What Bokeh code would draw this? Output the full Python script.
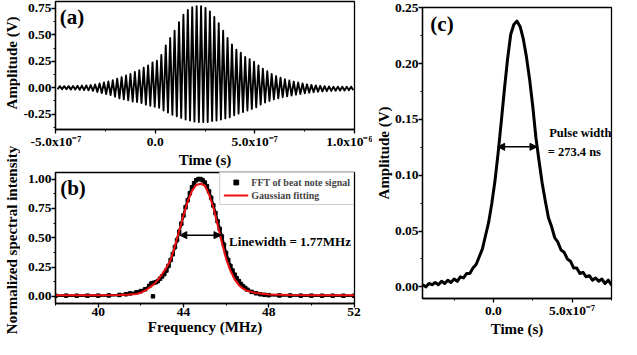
import math
import numpy as np
from bokeh.plotting import figure
from bokeh.models import Range1d, FixedTicker, NumeralTickFormatter, Label, Arrow, NormalHead
from bokeh.layouts import row, column
from bokeh.embed import file_html
from bokeh.resources import INLINE

FONT = "Liberation Serif"

# ---------------- Panel (a): beat-note time trace ----------------
a_t0 = -4.802e-7          # time of first upper extreme (s)
a_period = 2.22e-8        # carrier period (s)
a_upper = [0.015, 0.015, 0.015, 0.016, 0.018, 0.02, 0.022, 0.025, 0.03, 0.04,
           0.05, 0.06, 0.07, 0.085, 0.10, 0.115, 0.13, 0.15, 0.165, 0.19,
           0.21, 0.24, 0.255, 0.31, 0.40, 0.47, 0.54, 0.62, 0.69, 0.735,
           0.76, 0.77, 0.77, 0.755, 0.72, 0.67, 0.61, 0.54, 0.47, 0.41,
           0.36, 0.33, 0.29, 0.27, 0.245, 0.21, 0.18, 0.155, 0.13, 0.11,
           0.095, 0.08, 0.068, 0.058, 0.05, 0.04, 0.032, 0.027, 0.022, 0.018,
           0.015, 0.012, 0.01, 0.01, 0.01, 0.01, 0.01]
a_lower = [-0.015, -0.015, -0.015, -0.018, -0.018, -0.02, -0.022, -0.025, -0.03, -0.04,
           -0.05, -0.06, -0.07, -0.085, -0.10, -0.11, -0.12, -0.13, -0.135, -0.145,
           -0.16, -0.17, -0.18, -0.19, -0.215, -0.235, -0.255, -0.27, -0.285, -0.30,
           -0.31, -0.32, -0.325, -0.325, -0.325, -0.315, -0.31, -0.30, -0.29, -0.28,
           -0.26, -0.245, -0.23, -0.215, -0.20, -0.185, -0.16, -0.14, -0.125, -0.11,
           -0.10, -0.09, -0.082, -0.074, -0.066, -0.06, -0.053, -0.047, -0.042, -0.038,
           -0.035, -0.032, -0.03, -0.028, -0.027, -0.026, -0.025, -0.025]
a_xticks = [-5e-7, 0.0, 5e-7, 1e-6]
a_xlabels = ["-5.0x10\u207b\u2077", "0.0", "5.0x10\u207b\u2077", "1.0x10\u207b\u2076"]
a_xminor = [-2.5e-7, 2.5e-7, 7.5e-7]
a_yticks = [-0.25, 0.0, 0.25, 0.5, 0.75]
a_yminor = [-0.375, -0.125, 0.125, 0.375, 0.625]

# ---------------- Panel (b): spectrum ----------------
fft_freq = [38.0, 38.5, 39.0, 39.5, 40.0, 40.5, 41.0, 41.3, 41.5, 41.8,
            42.0, 42.2, 42.4, 42.5, 42.6, 42.7, 42.8, 42.9, 43.0, 43.1,
            43.2, 43.3, 43.4, 43.5, 43.6, 43.7, 43.8, 43.9, 44.0, 44.1,
            44.2, 44.3, 44.4, 44.5, 44.6, 44.7, 44.8, 44.9, 45.0, 45.1,
            45.2, 45.3, 45.4, 45.5, 45.6, 45.7, 45.8, 45.9, 46.0, 46.1,
            46.2, 46.3, 46.4, 46.5, 46.6, 46.7, 46.8, 46.9, 47.0,
            47.2, 47.4, 47.6, 47.8, 48.0,
            48.5, 49.0, 49.5, 50.0, 50.5, 51.0, 51.5, 52.0]
fft_amp = [0.005, 0.006, 0.005, 0.006, 0.006, 0.008, 0.012, 0.018, 0.025, 0.035,
           0.045, 0.06, 0.09, 0.11, 0.115, 0.12, 0.13, 0.15, 0.17, 0.19,
           0.22, 0.26, 0.31, 0.36, 0.42, 0.48, 0.55, 0.62, 0.69, 0.76,
           0.82, 0.88, 0.93, 0.965, 0.99, 1.0, 1.0, 0.99, 0.97, 0.94,
           0.895, 0.84, 0.775, 0.71, 0.64, 0.575, 0.51, 0.44, 0.37, 0.31,
           0.26, 0.22, 0.185, 0.155, 0.13, 0.105, 0.085, 0.07, 0.056,
           0.038, 0.026, 0.018, 0.013, 0.01,
           0.008, 0.007, 0.006, 0.006, 0.005, 0.005, 0.005, 0.005]
fft_outlier_freq = [42.57]
fft_outlier_amp = [0.0]
fit_freq = [38.0, 39.0, 40.0, 41.0, 41.5, 41.8, 42.0, 42.3, 42.6, 42.8,
            43.0, 43.2, 43.4, 43.6, 43.8, 44.0, 44.2, 44.4, 44.6, 44.8,
            45.0, 45.2, 45.4, 45.6, 45.8, 46.0, 46.2, 46.4, 46.6, 46.8,
            47.0, 47.4, 48.0, 49.0, 50.0, 52.0]
fit_amp = [0.01, 0.01, 0.01, 0.012, 0.015, 0.02, 0.03, 0.06, 0.10, 0.14,
           0.19, 0.245, 0.31, 0.43, 0.56, 0.69, 0.81, 0.90, 0.95, 0.96,
           0.945, 0.87, 0.76, 0.61, 0.46, 0.32, 0.22, 0.145, 0.095, 0.065,
           0.045, 0.028, 0.016, 0.011, 0.01, 0.01]
b_xticks = [40, 44, 48, 52]
b_xminor = [38, 42, 46, 50]
b_yticks = [0.0, 0.25, 0.5, 0.75, 1.0]
b_yminor = [0.125, 0.375, 0.625, 0.875]
b_arrow = (43.83, 45.76, 0.522)
b_note = "Linewidth = 1.77MHz"

# ---------------- Panel (c): pulse ----------------
pulse_t_us = [-0.45, -0.43, -0.41, -0.39, -0.37, -0.35, -0.33, -0.31, -0.29, -0.27,
              -0.25, -0.23, -0.21, -0.19, -0.17, -0.15, -0.13, -0.11, -0.09, -0.07,
              -0.05, -0.03, -0.01, 0.01, 0.03, 0.05, 0.07, 0.09, 0.11, 0.13,
              0.15, 0.17, 0.19, 0.21, 0.23, 0.25, 0.27, 0.29, 0.31, 0.33,
              0.35, 0.37, 0.39, 0.41, 0.43, 0.45, 0.47, 0.49, 0.51, 0.53,
              0.55, 0.57, 0.59, 0.61, 0.63, 0.65, 0.67, 0.69, 0.71, 0.73,
              0.75, 0.77]
pulse_amp = [0.002, 0.000, 0.003, 0.002, 0.004, 0.002, 0.005, 0.003, 0.006, 0.004,
             0.007, 0.005, 0.009, 0.008, 0.012, 0.012, 0.017, 0.020, 0.027, 0.034,
             0.046, 0.058, 0.075, 0.095, 0.120, 0.148, 0.177, 0.204, 0.226, 0.235,
             0.238, 0.233, 0.222, 0.206, 0.186, 0.162, 0.134, 0.113, 0.093, 0.077,
             0.062, 0.054, 0.044, 0.040, 0.033, 0.031, 0.025, 0.023, 0.017, 0.017,
             0.012, 0.013, 0.009, 0.010, 0.006, 0.008, 0.005, 0.007, 0.003, 0.006,
             0.002, 0.005]
c_xticks = [0.0, 5e-7]
c_xlabels = ["0.0", "5.0x10\u207b\u2077"]
c_xminor = [-2.5e-7, 2.5e-7, 7.5e-7]
c_yticks = [0.0, 0.05, 0.10, 0.15, 0.20, 0.25]
c_yminor = [0.025, 0.075, 0.125, 0.175, 0.225]
c_arrow = (2.7e-8, 2.77e-7, 0.1254)


def style(p, tick_size="13.5px"):
    p.outline_line_color = "black"
    p.outline_line_width = 1.3
    p.xgrid.visible = False
    p.ygrid.visible = False
    for ax in list(p.xaxis) + list(p.yaxis):
        ax.axis_line_width = 1.3
        ax.axis_line_color = "black"
        ax.major_tick_line_width = 1.3
        ax.minor_tick_line_width = 1.0
        ax.major_tick_out = 4
        ax.major_tick_in = 0
        ax.minor_tick_out = 2
        ax.minor_tick_in = 0
        ax.major_label_text_font = FONT
        ax.major_label_text_font_style = "bold"
        ax.major_label_text_font_size = tick_size
        ax.major_label_text_color = "black"
        ax.major_label_standoff = 0
        ax.axis_label_text_font = FONT
        ax.axis_label_text_font_style = "bold"
        ax.axis_label_text_font_size = "15px"
        ax.axis_label_text_color = "black"
        ax.axis_label_standoff = 0


def text(p, x, y, s, size="12px", baseline="middle"):
    p.add_layout(Label(x=x, y=y, text=s, text_font=FONT, text_font_style="bold",
                       text_font_size=size, text_color="black", text_align="left",
                       text_baseline=baseline))


def title_strip(label, height, top, bottom):
    # a narrow plot that only carries a rotated axis title centred on its frame
    s = figure(width=20, height=height, x_range=Range1d(0, 1), y_range=Range1d(0, 1),
               x_axis_location=None, y_axis_location="left", toolbar_location=None,
               output_backend="svg", title=None, outline_line_color=None,
               min_border_left=0, min_border_right=0, min_border_top=top, min_border_bottom=bottom)
    s.ygrid.visible = False
    ax = s.yaxis[0]
    ax.ticker = FixedTicker(ticks=[])
    ax.axis_line_color = None
    ax.major_tick_out = 0
    ax.major_tick_in = 0
    ax.minor_tick_out = 0
    ax.minor_tick_in = 0
    ax.major_label_standoff = 0
    ax.axis_label = label
    ax.axis_label_standoff = 0
    ax.axis_label_text_font = FONT
    ax.axis_label_text_font_style = "bold"
    ax.axis_label_text_font_size = "15px"
    ax.axis_label_text_color = "black"
    return s


H = 339   # total height that fits the 355px window with 8px margins

strip_a = title_strip("Amplitude (V)", 142, 15, 32)
strip_b = title_strip("Normalized spectral intensity", H - 142, 5, 7)

# ---------- (a) ----------
pa = figure(width=352, height=170, x_range=Range1d(-5.02e-7, 1.002e-6),
            y_range=Range1d(-0.395, 0.815), toolbar_location=None, output_backend="svg",
            min_border_left=30, min_border_right=18, min_border_top=1, min_border_bottom=36)
a_t, a_v = [], []
for k in range(len(a_lower)):
    a_t.append(a_t0 + (k - 0.5) * a_period)
    a_v.append(a_lower[k])
    if k < len(a_upper):
        a_t.append(a_t0 + k * a_period)
        a_v.append(a_upper[k])
pa.line(a_t, a_v, line_color="black", line_width=1.9, line_join="round")
style(pa)
pa.xaxis.axis_label = "Time (s)"
pa.xaxis.ticker = FixedTicker(ticks=a_xticks, minor_ticks=a_xminor)
pa.xaxis.major_label_overrides = dict(zip(a_xticks, a_xlabels))
pa.yaxis.ticker = FixedTicker(ticks=a_yticks, minor_ticks=a_yminor)
pa.yaxis.formatter = NumeralTickFormatter(format="0.00")
text(pa, -4.80e-7, 0.668, "(a)", size="21px")

# ---------- (b) ----------
pb = figure(width=352, height=H - 170, x_range=Range1d(38, 52.02), y_range=Range1d(-0.061, 1.056),
            toolbar_location=None, output_backend="svg",
            min_border_left=30, min_border_right=18, min_border_top=2, min_border_bottom=36)
pb.line(fft_freq, fft_amp, line_color="black", line_width=2.6)
pb.scatter(fft_freq + fft_outlier_freq, fft_amp + fft_outlier_amp, marker="square", size=3.5,
           color="black", legend_label="FFT of beat note signal")
pb.line(fit_freq, fit_amp, line_color="#ee1111", line_width=2, legend_label="Gaussian fitting")
style(pb)
pb.xaxis.axis_label = "Frequency (MHz)"
pb.xaxis.ticker = FixedTicker(ticks=b_xticks, minor_ticks=b_xminor)
pb.yaxis.ticker = FixedTicker(ticks=b_yticks, minor_ticks=b_yminor)
pb.yaxis.formatter = NumeralTickFormatter(format="0.00")
lg = pb.legend[0]
lg.location = "top_right"
lg.margin = 0
lg.padding = 3
lg.spacing = 1
lg.border_line_color = "#9a9a9a"
lg.border_line_width = 1
lg.background_fill_alpha = 1.0
lg.label_text_font = FONT
lg.label_text_font_style = "bold"
lg.label_text_font_size = "10px"
lg.glyph_width = 25
lg.glyph_height = 12
lg.label_height = 12
lg.label_standoff = 3
pb.add_layout(Arrow(start=NormalHead(size=7, fill_color="black", line_color="black"),
                    end=NormalHead(size=7, fill_color="black", line_color="black"),
                    x_start=b_arrow[0], x_end=b_arrow[1], y_start=b_arrow[2], y_end=b_arrow[2],
                    line_width=1.5, line_color="black"))
text(pb, 46.14, 0.47, b_note, size="13px")
text(pb, 38.22, 0.9225, "(b)", size="21px")

# ---------- (c) ----------
pc = figure(width=241, height=H, x_range=Range1d(-4.51e-7, 7.51e-7),
            y_range=Range1d(-0.0104, 0.2502), toolbar_location=None, output_backend="svg",
            min_border_left=50, min_border_right=2, min_border_top=7, min_border_bottom=36)
pc.line(np.array(pulse_t_us) * 1e-6, pulse_amp, line_color="black", line_width=3,
        line_join="round")
style(pc)
pc.xaxis.axis_label = "Time (s)"
pc.yaxis.axis_label = "Amplitude (V)"
pc.xaxis.ticker = FixedTicker(ticks=c_xticks, minor_ticks=c_xminor)
pc.xaxis.major_label_overrides = dict(zip(c_xticks, c_xlabels))
pc.yaxis.ticker = FixedTicker(ticks=c_yticks, minor_ticks=c_yminor)
pc.yaxis.formatter = NumeralTickFormatter(format="0.00")
pc.add_layout(Arrow(start=NormalHead(size=7, fill_color="black", line_color="black"),
                    end=NormalHead(size=7, fill_color="black", line_color="black"),
                    x_start=c_arrow[0], x_end=c_arrow[1], y_start=c_arrow[2], y_end=c_arrow[2],
                    line_width=1.5, line_color="black"))
text(pc, 3.55e-7, 0.138, "Pulse width", size="12.5px")
text(pc, 3.45e-7, 0.121, "= 273.4 ns", size="12.5px")
text(pc, -4.01e-7, 0.2357, "(c)", size="21px")

layout = row(column(strip_a, strip_b), column(pa, pb), pc)
open("out.html", "w").write(file_html(layout, INLINE))
